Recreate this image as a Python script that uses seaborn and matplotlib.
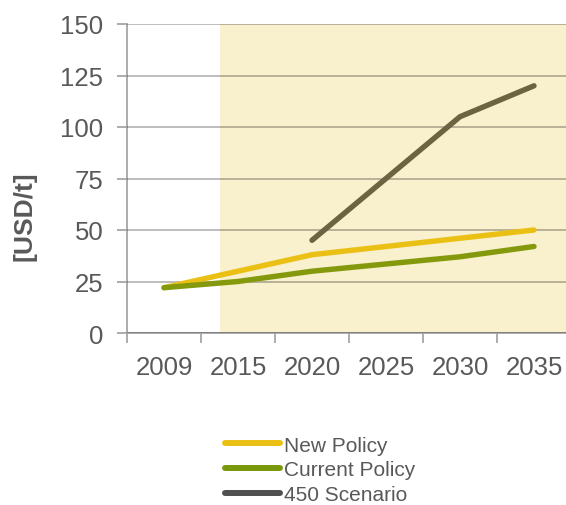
import matplotlib
matplotlib.use("Agg")
import matplotlib.pyplot as plt
from matplotlib.lines import Line2D
import numpy as np
import pandas as pd
import seaborn as sns

years = ["2009", "2015", "2020", "2025", "2030", "2035"]
new_policy = [22, 30, 38, 42, 46, 50]
current_policy = [22, 25, 30, 33.5, 37, 42]
scenario_years = ["2020", "2025", "2030", "2035"]
scenario_450 = [45, 75, 105, 120]

series_names = ["New Policy", "Current Policy", "450 Scenario"]
line_colors = ["#EBC015", "#849A0C", "#6C6340"]
legend_colors = ["#EBC015", "#7A980B", "#505050"]
y_ticks = [0, 25, 50, 75, 100, 125, 150]

df = pd.concat([
    pd.DataFrame({"year": years, "value": new_policy, "series": series_names[0]}),
    pd.DataFrame({"year": years, "value": current_policy, "series": series_names[1]}),
    pd.DataFrame({"year": scenario_years, "value": scenario_450, "series": series_names[2]}),
], ignore_index=True)

sns.set_style("white")
plt.rcParams["font.family"] = ["Liberation Sans", "DejaVu Sans"]
text_color = "#595959"
axis_gray = "#A6A6A6"

W, H = 566, 506
fig = plt.figure(figsize=(W / 100, H / 100), dpi=100)
ax = fig.add_axes([127 / W, (H - 334) / H, (571 - 127) / W, (334 - 25) / H])

# projection period shading
ax.axvspan(0.757, 5.5, color="#F9F0CE", zorder=0, lw=0)

sns.lineplot(data=df, x="year", y="value", hue="series", hue_order=series_names,
             palette=dict(zip(series_names, line_colors)), linewidth=3.9,
             solid_capstyle="round", legend=False, ax=ax, zorder=3)

ax.set_xlim(-0.5, 5.5)
ax.set_ylim(0, 150)
ax.set_yticks(y_ticks)
ax.set_yticklabels([str(v) for v in y_ticks])
ax.set_xticks(range(len(years)))
ax.set_xticklabels(years)
ax.set_xticks(np.arange(-0.5, 5.6, 1.0), minor=True)

ax.grid(axis="y", color="#000000", alpha=0.33, linewidth=1.1, zorder=1)
ax.grid(axis="x", visible=False)
ax.set_axisbelow(False)
for line in ax.get_ygridlines():
    line.set_zorder(1)

for side in ["top", "right"]:
    ax.spines[side].set_visible(False)
for side in ["left", "bottom"]:
    ax.spines[side].set_color(axis_gray)
    ax.spines[side].set_linewidth(1.3)
    ax.spines[side].set_zorder(2)

ax.tick_params(axis="y", which="major", length=7, width=1.3, color=axis_gray,
               labelsize=18.5, labelcolor=text_color, pad=10, direction="out", left=True)
ax.tick_params(axis="x", which="major", length=0, labelsize=18.5,
               labelcolor=text_color, pad=16)
ax.tick_params(axis="x", which="minor", length=7, width=1.3, color=axis_gray,
               direction="out", bottom=True)

ax.set_xlabel("")
ax.set_ylabel("[USD/t]", fontsize=19, fontweight="bold", color=text_color)
ax.yaxis.set_label_coords((37 - 127) / 444, (334 - 216) / 309)

handles = [Line2D([0], [0], color=c, linewidth=4.3, solid_capstyle="round")
           for c in legend_colors]
fig.legend(handles, series_names, loc="center left",
           bbox_to_anchor=(225 / W, (H - 471) / H), frameon=False,
           fontsize=15, handlelength=2.65, handletextpad=0.2,
           labelspacing=0.28, borderpad=0, borderaxespad=0,
           labelcolor=text_color)

fig.savefig("out.png", dpi=100)
